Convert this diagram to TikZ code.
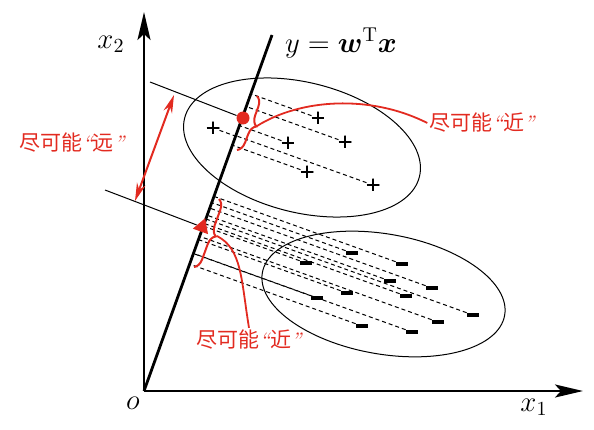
\documentclass[tikz,border=0pt]{standalone}
\usepackage{amsmath}
\usepackage{fontspec}
\newfontfamily\cjk{Noto Sans CJK SC}
\usetikzlibrary{arrows.meta,calc,decorations.pathreplacing,shapes.geometric}
\definecolor{markred}{RGB}{226,42,32}
\newcommand{\cnlq}{{\rmfamily\itshape “}}
\newcommand{\cnrq}{{\rmfamily\itshape ”}}
\tikzset{
	axisline/.style={line width=1.25pt,-{Stealth[length=14pt,width=6.5pt,inset=3pt]}},
	wline/.style={line width=1.4pt},
	ellip/.style={line width=0.5pt},
	thinline/.style={line width=0.5pt},
	projdash/.style={line width=0.5pt,dash pattern=on 2pt off 1.5pt},
	plusmark/.style={circle,minimum size=6.5pt,inner sep=0pt,
		path picture={\draw[line width=1pt] (path picture bounding box.north) -- (path picture bounding box.south)
			(path picture bounding box.west) -- (path picture bounding box.east);}},
	minusmark/.style={rectangle,fill=black,minimum width=6pt,minimum height=2.4pt,inner sep=0pt},
	farrow/.style={markred,line width=1pt,{Stealth[length=9pt,width=4.5pt]}-{Stealth[length=9pt,width=4.5pt]}},
	nearcurve/.style={markred,line width=0.9pt},
	bracemark/.style={markred,line width=1pt,decorate,decoration={brace,amplitude=5pt}},
	cntext/.style={text=markred,inner sep=1pt,font=\cjk\fontsize{10.5}{12}\selectfont}
}
\begin{document}
\begin{tikzpicture}[x=0.5pt,y=0.5pt]
		\useasboundingbox (0,0) rectangle (594,429);
		
		%Marking coordinates
		\coordinate (O) at (144,38);
		\coordinate (x2top) at (144,417);
		\coordinate (x1top) at (583,38);
		\coordinate (ytop) at (272,394);
		
		%Axes and labels
		\draw[axisline] (O) -- (x2top);
		\draw[axisline] (O) -- (x1top);
		\node[font=\Large] (x2lab) at (111,385) {$x_2$};
		\node[font=\Large] (x1lab) at (534,22) {$x_1$};
		\node[font=\Large] (olab) at (133,26) {$o$};
		
		%Ellipses of the two classes
		\draw[ellip,rotate around={-14:(302,281.5)}] (302,281.5) ellipse [x radius=121,y radius=65];
		\draw[ellip,rotate around={-10:(383.5,135)}] (383.5,135) ellipse [x radius=123,y radius=60];
		
		%Positive samples
		\foreach \x/\y [count=\i] in {318/311,213/301,345/287,288/286,307/257,373/244}
			\node[plusmark] (p\i) at (\x,\y) {};
		
		%Negative samples
		\foreach \x/\y [count=\i] in {306/166,352/176,402/165,390/148,432/141,317/131,347/136,406/133,473/114,438/107,362/103,412/97}
			\node[minusmark] (n\i) at (\x,\y) {};
		
		%Projections onto the line
		\foreach \i in {1,...,6}
			\draw[projdash] (p\i) -- ($(O)!(p\i)!(ytop)$);
		\foreach \i in {1,...,12}
			\draw[projdash] (n\i) -- ($(O)!(n\i)!(ytop)$);
		
		%Projection line
		\draw[wline] (O) -- (ytop);
		\node[font=\Large] (ylab) at (341,386) {$y=\boldsymbol{w}^{\mathrm{T}}\boldsymbol{x}$};
		
		%Projected centres
		\node[circle,fill=markred,minimum size=6.5pt,inner sep=0pt] (pc) at (243,311) {};
		\node[isosceles triangle,isosceles triangle apex angle=60,fill=markred,minimum height=7pt,inner sep=0pt,rotate=70.2] (nc) at (202,202) {};
		\coordinate (pstart) at (150,347);
		\coordinate (nstart) at (105,239);
		\draw[thinline] (pstart) -- (pc);
		\draw[thinline] (nstart) -- (nc);
		
		%Far apart
		\coordinate (farA) at (174,334);
		\coordinate (farB) at (135,228);
		\draw[farrow] (farA) -- (farB);
		\node[cntext] (farlab) at (72,286) {尽可能\cnlq 远\cnrq};
		
		%Close together
		\coordinate (pbtop) at (257,333);
		\coordinate (pbbot) at (237,279);
		\coordinate (nbtop) at (219,230);
		\coordinate (nbbot) at (194,162);
		\draw[bracemark] (pbtop) -- (pbbot);
		\draw[bracemark] (nbtop) -- (nbbot);
		\coordinate (pbtip) at (257,303);
		\coordinate (nbtip) at (217,193);
		\node[cntext] (nearup) at (482,306) {尽可能\cnlq 近\cnrq};
		\node[cntext] (neardown) at (249,89) {尽可能\cnlq 近\cnrq};
		\draw[nearcurve] (pbtip) .. controls (300,330) and (370,335) .. (nearup.west);
		\draw[nearcurve] (nbtip) .. controls (242,180) and (241,150) .. (neardown.north);
	\end{tikzpicture}
\end{document}
